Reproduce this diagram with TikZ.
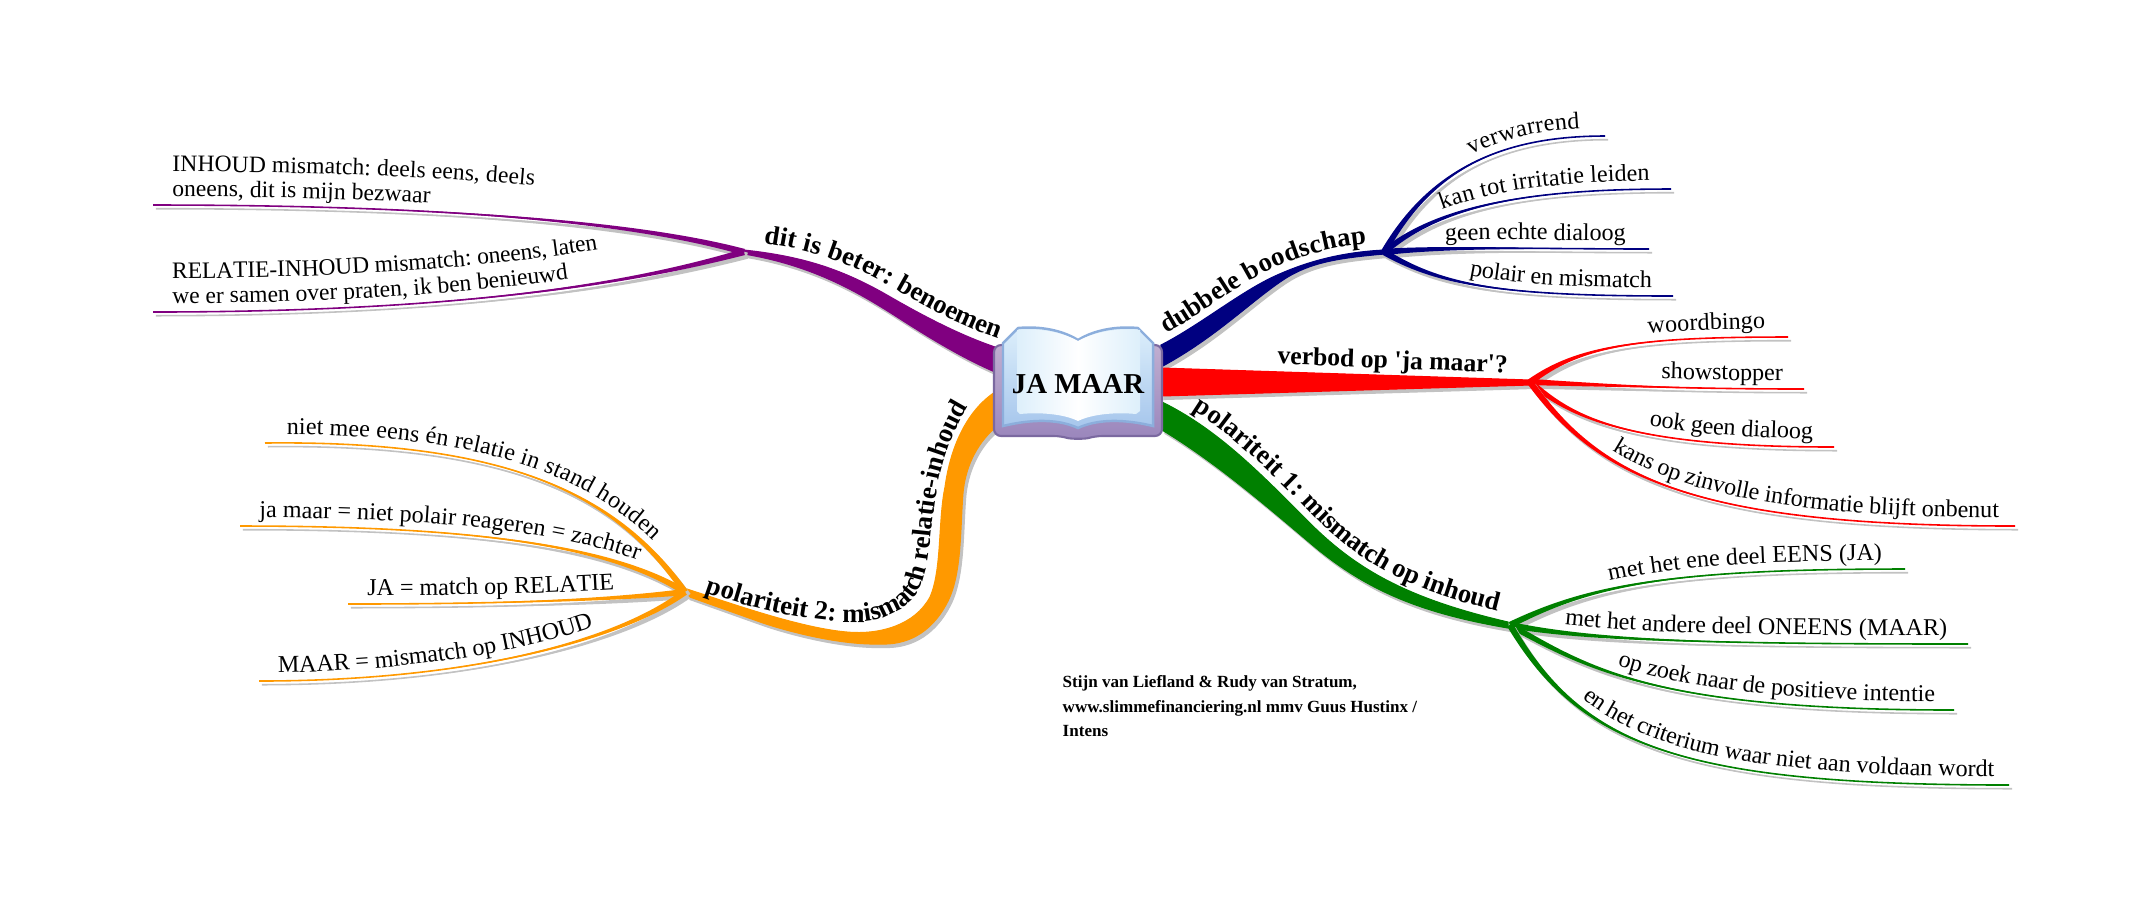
\documentclass[tikz,border=0pt]{standalone}
\usepackage{fontspec}
\usepackage{tikz}
\usetikzlibrary{calc,decorations.text}
\newfontfamily\mapfont{Liberation Serif}
\newcommand{\leaffont}{\mapfont\fontsize{6.85pt}{8pt}\selectfont}
\newcommand{\plumfont}{\mapfont\fontsize{6.7pt}{8pt}\selectfont}
\newcommand{\limbfont}{\mapfont\bfseries\fontsize{7.6pt}{9pt}\selectfont}
\newcommand{\flatfont}{\mapfont\bfseries\fontsize{7.3pt}{9pt}\selectfont}
\definecolor{Navy}{HTML}{000080}
\definecolor{BranchRed}{HTML}{FF0000}
\definecolor{BranchGreen}{HTML}{008000}
\definecolor{Plum}{HTML}{800080}
\definecolor{Amber}{HTML}{FF9900}
\definecolor{Shade}{HTML}{C2C2C2}
\definecolor{BookTop}{HTML}{C0AED0}
\definecolor{BookLow}{HTML}{9A86BC}
\definecolor{BookEdge}{HTML}{7B69A0}
\definecolor{PageLight}{HTML}{DDEFFB}
\definecolor{PageBlue}{HTML}{A6C6EC}
\definecolor{PageEdge}{HTML}{8CAEDC}
% tapered twig: colour, hub, first control, second control, leaf end
\newcommand{\twigshape}[5]{
  \fill[#1] ($(#2)!0.9pt!90:(#3)$) .. controls ($(#3)!0.4pt!-90:(#2)$) and (#4) .. (#5)
    .. controls (#4) and ($(#3)!0.4pt!90:(#2)$) .. ($(#2)!0.9pt!-90:(#3)$) -- cycle;
  \draw[#1,line width=0.45pt] (#2) .. controls (#3) and (#4) .. (#5);
}
\newcommand{\twig}[5]{
  \begin{scope}[transform canvas={xshift=0.85pt,yshift=-1.05pt}]
    \twigshape{Shade}{#2}{#3}{#4}{#5}
  \end{scope}
  \twigshape{#1}{#2}{#3}{#4}{#5}
}
% twig with its label on the way out to the right
\newcommand{\twigR}[7]{
  \twig{#1}{#2}{#3}{#4}{#5}
  \path[decorate,decoration={text along path,raise=2.4pt,text align={right,right indent=#6},text={|\leaffont|#7}}]
    (#2) .. controls (#3) and (#4) .. (#5);
}
% same for the left side, the label runs from the leaf to the hub
\newcommand{\twigL}[7]{
  \twig{#1}{#2}{#3}{#4}{#5}
  \path[decorate,decoration={text along path,raise=2.4pt,text align={left indent=#6},text={|\leaffont|#7}}]
    (#5) .. controls (#4) and (#3) .. (#2);
}
\begin{document}
\begin{tikzpicture}[
  x=0.01cm,y=-0.01cm,
  shade limb/.style={fill=Shade,draw=Shade,line width=0.3pt,transform canvas={xshift=0.8pt,yshift=-1pt}},
  limb/.style={fill=#1,draw=#1,line width=0.3pt},
  title/.style={font=\mapfont\bfseries\fontsize{8.2pt}{10pt}\selectfont,inner sep=0pt},
  credit/.style={font=\mapfont\bfseries\fontsize{4.85pt}{6.9pt}\selectfont,align=left,anchor=north west,inner sep=0pt}
]
\useasboundingbox (0,0) rectangle (2149,917);
\coordinate (hubN) at (1384,252);
\coordinate (hubR) at (1530,382);
\coordinate (hubG) at (1510,625);
\coordinate (hubP) at (744,252);
\coordinate (hubO) at (685,592);
\coordinate (n1) at (1605,136);
\coordinate (n2) at (1671,189);
\coordinate (n3) at (1649,249);
\coordinate (n4) at (1673,296);
\coordinate (r1) at (1788,337);
\coordinate (r2) at (1804,389);
\coordinate (r3) at (1834,447);
\coordinate (r4) at (2015,526);
\coordinate (g1) at (1905,569);
\coordinate (g2) at (1968,644);
\coordinate (g3) at (1954,710);
\coordinate (g4) at (2009,785);
\coordinate (p1) at (153,205);
\coordinate (p2) at (153,312);
\coordinate (o1) at (265,443);
\coordinate (o2) at (240,526);
\coordinate (o3) at (348,604);
\coordinate (o4) at (259,681);
% limbs
\path[shade limb] (hubP) ++(0,-2) .. controls (800,256) and (840,268) .. (887,295) .. controls (925,317) and (960,335) .. (995,347) -- (995,372) .. controls (960,357) and (925,335) .. (897,317) .. controls (855,290) and (810,265) .. (744,254) -- cycle;
\path[limb=Plum] (hubP) ++(0,-2) .. controls (800,256) and (840,268) .. (887,295) .. controls (925,317) and (960,335) .. (995,347) -- (995,372) .. controls (960,357) and (925,335) .. (897,317) .. controls (855,290) and (810,265) .. (744,254) -- cycle;
\path[shade limb] (1161,345) .. controls (1200,325) and (1240,292) .. (1275,276) .. controls (1310,260) and (1345,252) .. (1384,250) -- (1384,254) .. controls (1340,258) and (1310,262) .. (1283,280) .. controls (1250,302) and (1215,338) .. (1161,367) -- cycle;
\path[limb=Navy] (1161,345) .. controls (1200,325) and (1240,292) .. (1275,276) .. controls (1310,260) and (1345,252) .. (1384,250) -- (1384,254) .. controls (1340,258) and (1310,262) .. (1283,280) .. controls (1250,302) and (1215,338) .. (1161,367) -- cycle;
\path[shade limb] (1161,368) -- (1530,380) -- (1530,385) -- (1161,396) -- cycle;
\path[limb=BranchRed] (1161,368) -- (1530,380) -- (1530,385) -- (1161,396) -- cycle;
\path[shade limb] (1162,402) .. controls (1215,428) and (1255,468) .. (1302,515) .. controls (1350,565) and (1400,597) .. (1508,622) -- (1508,628) .. controls (1420,613) and (1365,590) .. (1310,543) .. controls (1265,505) and (1215,462) .. (1162,430) -- cycle;
\path[limb=BranchGreen] (1162,402) .. controls (1215,428) and (1255,468) .. (1302,515) .. controls (1350,565) and (1400,597) .. (1508,622) -- (1508,628) .. controls (1420,613) and (1365,590) .. (1310,543) .. controls (1265,505) and (1215,462) .. (1162,430) -- cycle;
\path[shade limb] (687,589) .. controls (730,603) and (800,628) .. (847,632) .. controls (880,635) and (915,625) .. (930,597) .. controls (942,570) and (938,520) .. (945,487) .. controls (950,450) and (965,412) .. (995,392) -- (995,428) .. controls (975,445) and (965,470) .. (963,493) .. controls (960,530) and (962,575) .. (947,603) .. controls (930,635) and (905,645) .. (880,644) .. controls (840,645) and (790,632) .. (763,623) -- (687,596) -- cycle;
\path[limb=Amber] (687,589) .. controls (730,603) and (800,628) .. (847,632) .. controls (880,635) and (915,625) .. (930,597) .. controls (942,570) and (938,520) .. (945,487) .. controls (950,450) and (965,412) .. (995,392) -- (995,428) .. controls (975,445) and (965,470) .. (963,493) .. controls (960,530) and (962,575) .. (947,603) .. controls (930,635) and (905,645) .. (880,644) .. controls (840,645) and (790,632) .. (763,623) -- (687,596) -- cycle;
% limb labels
\path[decorate,decoration={text along path,raise=2.6pt,text align={left indent=5.2pt},text={|\limbfont|dit is beter: benoemen}}]
  (hubP) ++(0,-2) .. controls (800,256) and (840,268) .. (887,295) .. controls (925,317) and (960,335) .. (995,347) -- (1030,360);
\path[decorate,decoration={text along path,raise=2.2pt,text align={left indent=3pt},text={|\limbfont|dubbele boodschap}}]
  (1161,345) .. controls (1200,325) and (1240,292) .. (1275,276) .. controls (1310,260) and (1345,252) .. (1384,250);
\path[decorate,decoration={text along path,raise=2.4pt,text align={left indent=33pt},text={|\flatfont|verbod op 'ja maar'?}}]
  (1161,368) -- (hubR);
\path[decorate,decoration={text along path,raise=2.2pt,text align={left indent=8.5pt},text={|\limbfont|polariteit 1: mismatch op inhoud}}]
  (1162,402) .. controls (1215,428) and (1255,468) .. (1302,515) .. controls (1350,565) and (1400,597) .. (1508,622) -- (1530,628);
\path[decorate,decoration={text along path,text align={left indent=0pt},text={|\limbfont|polariteit 2: mismatch relatie-inhoud}}]
  (705,592) .. controls (760,612) and (810,620) .. (847,622) .. controls (880,624) and (905,612) .. (918,592) .. controls (932,568) and (930,525) .. (937,490) .. controls (943,455) and (955,420) .. (990,375);
% twigs
\twigR{Navy}{hubN}{1430,170}{1500,136}{n1}{7pt}{verwarrend}
\twigR{Navy}{hubN}{1440,205}{1530,189}{n2}{6pt}{kan tot irritatie leiden}
\twigR{Navy}{hubN}{1450,246}{1550,249}{n3}{6.6pt}{geen echte dialoog}
\twigR{Navy}{hubN}{1440,285}{1500,296}{n4}{6pt}{polair en mismatch}
\twigR{BranchRed}{hubR}{1580,345}{1640,337}{r1}{6.5pt}{woordbingo}
\twigR{BranchRed}{hubR}{1600,385}{1680,389}{r2}{6pt}{showstopper}
\twigR{BranchRed}{hubR}{1570,415}{1620,447}{r3}{6pt}{ook geen dialoog}
\twigR{BranchRed}{hubR}{1600,480}{1700,526}{r4}{4.7pt}{kans op zinvolle informatie blijft onbenut}
\twigR{BranchGreen}{hubG}{1590,585}{1670,569}{g1}{6.5pt}{met het ene deel EENS (JA)}
\twigR{BranchGreen}{hubG}{1590,640}{1700,644}{g2}{6pt}{met het andere deel ONEENS (MAAR)}
\twigR{BranchGreen}{hubG}{1590,670}{1660,710}{g3}{5.5pt}{op zoek naar de positieve intentie}
\twigR{BranchGreen}{hubG}{1580,745}{1680,785}{g4}{4.3pt}{en het criterium waar niet aan voldaan wordt}
\twig{Plum}{hubP}{630,220}{420,205}{p1}
\twig{Plum}{hubP}{660,275}{500,312}{p2}
\path[decorate,decoration={text along path,raise=2.4pt,text align={left indent=5.5pt},text={|\plumfont|oneens, dit is mijn bezwaar}}]
  (p1) .. controls (420,205) and (630,220) .. (hubP);
\path[decorate,decoration={text along path,raise=2.4pt,text align={left indent=5.5pt},text={|\plumfont|we er samen over praten, ik ben benieuwd}}]
  (p2) .. controls (500,312) and (660,275) .. (hubP);
\path[decorate,decoration={text along path,raise=9.5pt,text align={left indent=5.5pt},text={|\plumfont|INHOUD mismatch: deels eens, deels}}]
  (p1) .. controls (420,205) and (630,220) .. (hubP);
\path[decorate,decoration={text along path,raise=9.5pt,text align={left indent=5.5pt},text={|\plumfont|RELATIE-INHOUD mismatch: oneens, laten}}]
  (p2) .. controls (500,312) and (660,275) .. (hubP);
\twigL{Amber}{hubO}{620,500}{520,440}{o1}{6.2pt}{niet mee eens én relatie in stand houden}
\twigL{Amber}{hubO}{610,545}{470,526}{o2}{5.5pt}{ja maar = niet polair reageren = zachter}
\twigL{Amber}{hubO}{610,600}{500,604}{o3}{5.5pt}{JA = match op RELATIE}
\twigL{Amber}{hubO}{620,640}{470,681}{o4}{5.5pt}{MAAR = mismatch op INHOUD}
% the book
\shade[top color=BookTop,bottom color=BookLow,draw=BookEdge,line width=0.6pt,rounded corners=2pt]
  (994,345) -- (1162,345) -- (1162,436) -- (1095,436) .. controls (1085,439) and (1071,439) .. (1061,436) -- (994,436) -- cycle;
\shade[left color=PageLight,right color=PageBlue,shading angle=0,draw=PageEdge,line width=0.7pt]
  (1003,343) -- (1018,328) .. controls (1040,326) and (1062,330) .. (1078,340) .. controls (1094,330) and (1116,326) .. (1138,328) -- (1153,343)
  -- (1153,426) .. controls (1120,418) and (1095,420) .. (1078,428) .. controls (1061,420) and (1036,418) .. (1003,426) -- cycle;
\shade[left color=PageLight,right color=white]
  (1017,330) .. controls (1040,328) and (1062,332) .. (1078,341) -- (1078,421) .. controls (1064,414) and (1040,412) .. (1020,414) -- (1017,411) -- cycle;
\shade[left color=white,right color=PageLight]
  (1078,341) .. controls (1094,332) and (1116,328) .. (1140,330) -- (1140,411) -- (1136,414) .. controls (1116,412) and (1092,414) .. (1078,421) -- cycle;
\node[title] (book) at (1078,384) {JA MAAR};
\node[credit] (note) at (1062,675) {Stijn van Liefland \& Rudy van Stratum,\\www.slimmefinanciering.nl mmv Guus Hustinx /\\Intens};
\end{tikzpicture}
\end{document}
